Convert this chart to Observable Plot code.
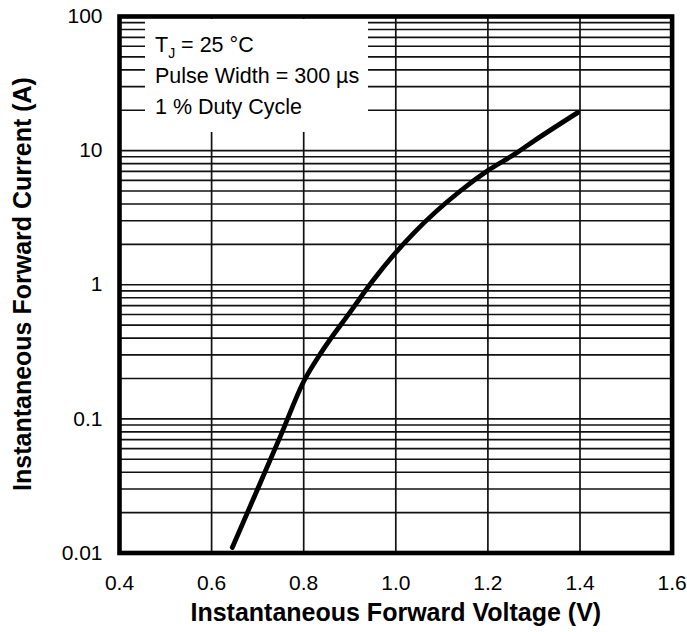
<!DOCTYPE html>
<html>
<head>
<meta charset="utf-8">
<script src="https://cdn.jsdelivr.net/npm/d3@7"></script>
<script src="https://cdn.jsdelivr.net/npm/@observablehq/plot@0.6"></script>
<style>
  html, body { margin: 0; padding: 0; background: #fff; }
  #wrap { position: relative; width: 687px; height: 632px; font-family: "Liberation Sans", Arial, Helvetica, sans-serif; }
  #legend {
    position: absolute; left: 145px; top: 19px; width: 223px; height: 113px;
    background: #fff; box-sizing: border-box; padding: 11px 0 0 10px;
    font-size: 21.5px; line-height: 31px; color: #000; white-space: nowrap;
  }
  #legend sub { font-size: 14px; vertical-align: -6px; line-height: 0; }
  #ytitle {
    position: absolute; left: -228px; top: 269px; width: 500px; height: 30px;
    line-height: 30px; text-align: center; font-size: 25px; font-weight: bold;
    transform: rotate(-90deg); transform-origin: 250px 15px; white-space: nowrap; color: #000;
  }
</style>
</head>
<body>
<div id="wrap"></div>
<script>
// Data
const voltage = [0.645, 0.70, 0.75, 0.80, 0.84, 0.90, 0.95, 1.0, 1.04, 1.14, 1.2, 1.26, 1.30, 1.395];
const current = [0.011, 0.030, 0.075, 0.19, 0.32, 0.62, 1.07, 1.74, 2.45, 5.0, 7.1, 9.5, 11.8, 19.2];

const xTicks = [0.4, 0.6, 0.8, 1.0, 1.2, 1.4, 1.6];
const xGrid = [0.6, 0.8, 1.0, 1.2, 1.4];
const yTicks = [0.01, 0.1, 1, 10, 100];
const yGrid = [];
for (const d of [0.01, 0.1, 1, 10]) for (let k = 1; k <= 9; k++) yGrid.push(+(d * k).toPrecision(3));

const xTitle = "Instantaneous Forward Voltage (V)";
const yTitle = "Instantaneous Forward Current (A)";
const legendLines = ["T<sub>J</sub> = 25 °C", "Pulse Width = 300 µs", "1 % Duty Cycle"];

const curve = voltage.map((v, i) => ({v, i: current[i]}));

const chart = Plot.plot({
  width: 687,
  height: 632,
  marginLeft: 119,
  marginRight: 15.4,
  marginTop: 16,
  marginBottom: 79.5,
  style: {fontFamily: "'Liberation Sans', Arial, Helvetica, sans-serif", fontSize: "21px", color: "#000", background: "#fff"},
  x: {domain: [0.4, 1.6]},
  y: {type: "log", domain: [0.01, 100]},
  marks: [
    Plot.ruleY(yGrid, {stroke: "#111", strokeWidth: 1.7}),
    Plot.ruleX(xGrid, {stroke: "#111", strokeWidth: 1.7}),
    Plot.line(curve, {x: "v", y: "i", stroke: "#000", strokeWidth: 4.8, curve: "monotone-x"}),
    Plot.frame({stroke: "#000", strokeWidth: 4.6}),
    Plot.axisX(xTicks, {tickSize: 0, tickPadding: 22, fontSize: 21, tickFormat: d => d.toFixed(1), label: null}),
    Plot.axisY(yTicks, {tickSize: 0, tickPadding: 17, fontSize: 21, tickFormat: d => String(d), label: null}),
    Plot.text([xTitle], {frameAnchor: "bottom", dy: 60, fontSize: 25, fontWeight: "bold", lineAnchor: "middle", text: d => d})
  ]
});

const wrap = document.getElementById("wrap");
wrap.appendChild(chart);
const legend = document.createElement("div");
legend.id = "legend";
legend.innerHTML = legendLines.map(l => `<div>${l}</div>`).join("");
wrap.appendChild(legend);
const yt = document.createElement("div");
yt.id = "ytitle";
yt.textContent = yTitle;
wrap.appendChild(yt);
</script>
</body>
</html>
